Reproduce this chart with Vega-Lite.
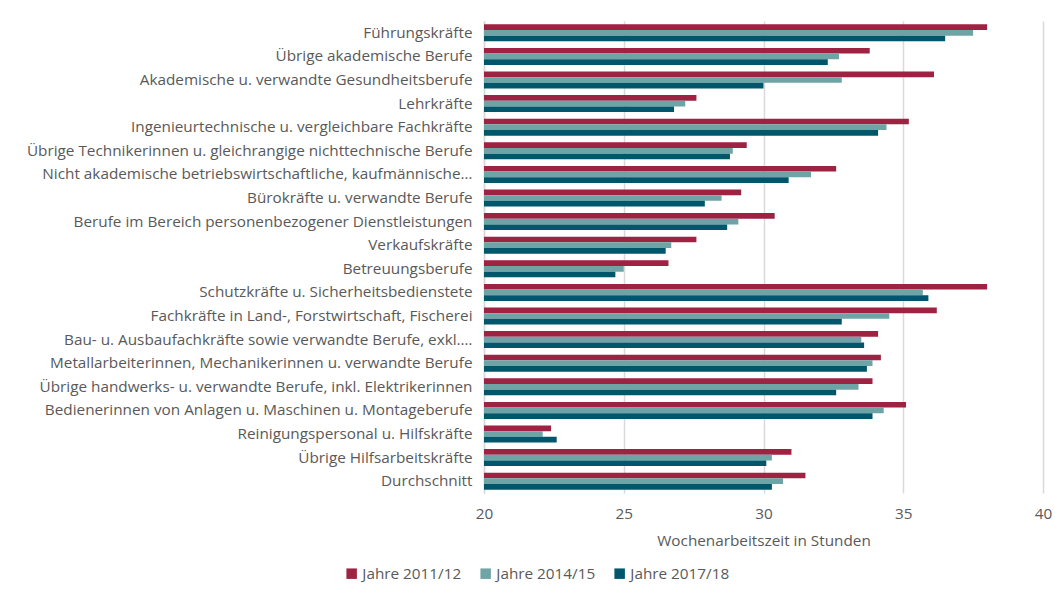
{
  "$schema": "https://vega.github.io/schema/vega-lite/v6.json",
  "width": 559,
  "height": 472,
  "autosize": {"type": "none"},
  "padding": {"left": 484, "top": 21, "right": 12, "bottom": 97},
  "background": "white",
  "config": {
    "view": {"stroke": null},
    "font": "Open Sans",
    "axis": {"labelColor": "#595959", "titleColor": "#595959", "labelFont": "Open Sans", "titleFont": "Open Sans"},
    "legend": {"labelFont": "Open Sans"}
  },
  "data": {
    "values": [
      {"beruf": "Führungskräfte", "jahr": "Jahre 2011/12", "stunden": 38.0},
      {"beruf": "Führungskräfte", "jahr": "Jahre 2014/15", "stunden": 37.5},
      {"beruf": "Führungskräfte", "jahr": "Jahre 2017/18", "stunden": 36.5},
      {"beruf": "Übrige akademische Berufe", "jahr": "Jahre 2011/12", "stunden": 33.8},
      {"beruf": "Übrige akademische Berufe", "jahr": "Jahre 2014/15", "stunden": 32.7},
      {"beruf": "Übrige akademische Berufe", "jahr": "Jahre 2017/18", "stunden": 32.3},
      {"beruf": "Akademische u. verwandte Gesundheitsberufe", "jahr": "Jahre 2011/12", "stunden": 36.1},
      {"beruf": "Akademische u. verwandte Gesundheitsberufe", "jahr": "Jahre 2014/15", "stunden": 32.8},
      {"beruf": "Akademische u. verwandte Gesundheitsberufe", "jahr": "Jahre 2017/18", "stunden": 30.0},
      {"beruf": "Lehrkräfte", "jahr": "Jahre 2011/12", "stunden": 27.6},
      {"beruf": "Lehrkräfte", "jahr": "Jahre 2014/15", "stunden": 27.2},
      {"beruf": "Lehrkräfte", "jahr": "Jahre 2017/18", "stunden": 26.8},
      {"beruf": "Ingenieurtechnische u. vergleichbare Fachkräfte", "jahr": "Jahre 2011/12", "stunden": 35.2},
      {"beruf": "Ingenieurtechnische u. vergleichbare Fachkräfte", "jahr": "Jahre 2014/15", "stunden": 34.4},
      {"beruf": "Ingenieurtechnische u. vergleichbare Fachkräfte", "jahr": "Jahre 2017/18", "stunden": 34.1},
      {"beruf": "Übrige Technikerinnen u. gleichrangige nichttechnische Berufe", "jahr": "Jahre 2011/12", "stunden": 29.4},
      {"beruf": "Übrige Technikerinnen u. gleichrangige nichttechnische Berufe", "jahr": "Jahre 2014/15", "stunden": 28.9},
      {"beruf": "Übrige Technikerinnen u. gleichrangige nichttechnische Berufe", "jahr": "Jahre 2017/18", "stunden": 28.8},
      {"beruf": "Nicht akademische betriebswirtschaftliche, kaufmännische…", "jahr": "Jahre 2011/12", "stunden": 32.6},
      {"beruf": "Nicht akademische betriebswirtschaftliche, kaufmännische…", "jahr": "Jahre 2014/15", "stunden": 31.7},
      {"beruf": "Nicht akademische betriebswirtschaftliche, kaufmännische…", "jahr": "Jahre 2017/18", "stunden": 30.9},
      {"beruf": "Bürokräfte u. verwandte Berufe", "jahr": "Jahre 2011/12", "stunden": 29.2},
      {"beruf": "Bürokräfte u. verwandte Berufe", "jahr": "Jahre 2014/15", "stunden": 28.5},
      {"beruf": "Bürokräfte u. verwandte Berufe", "jahr": "Jahre 2017/18", "stunden": 27.9},
      {"beruf": "Berufe im Bereich personenbezogener Dienstleistungen", "jahr": "Jahre 2011/12", "stunden": 30.4},
      {"beruf": "Berufe im Bereich personenbezogener Dienstleistungen", "jahr": "Jahre 2014/15", "stunden": 29.1},
      {"beruf": "Berufe im Bereich personenbezogener Dienstleistungen", "jahr": "Jahre 2017/18", "stunden": 28.7},
      {"beruf": "Verkaufskräfte", "jahr": "Jahre 2011/12", "stunden": 27.6},
      {"beruf": "Verkaufskräfte", "jahr": "Jahre 2014/15", "stunden": 26.7},
      {"beruf": "Verkaufskräfte", "jahr": "Jahre 2017/18", "stunden": 26.5},
      {"beruf": "Betreuungsberufe", "jahr": "Jahre 2011/12", "stunden": 26.6},
      {"beruf": "Betreuungsberufe", "jahr": "Jahre 2014/15", "stunden": 25.0},
      {"beruf": "Betreuungsberufe", "jahr": "Jahre 2017/18", "stunden": 24.7},
      {"beruf": "Schutzkräfte u. Sicherheitsbedienstete", "jahr": "Jahre 2011/12", "stunden": 38.0},
      {"beruf": "Schutzkräfte u. Sicherheitsbedienstete", "jahr": "Jahre 2014/15", "stunden": 35.7},
      {"beruf": "Schutzkräfte u. Sicherheitsbedienstete", "jahr": "Jahre 2017/18", "stunden": 35.9},
      {"beruf": "Fachkräfte in Land-, Forstwirtschaft, Fischerei", "jahr": "Jahre 2011/12", "stunden": 36.2},
      {"beruf": "Fachkräfte in Land-, Forstwirtschaft, Fischerei", "jahr": "Jahre 2014/15", "stunden": 34.5},
      {"beruf": "Fachkräfte in Land-, Forstwirtschaft, Fischerei", "jahr": "Jahre 2017/18", "stunden": 32.8},
      {"beruf": "Bau- u. Ausbaufachkräfte sowie verwandte Berufe, exkl.…", "jahr": "Jahre 2011/12", "stunden": 34.1},
      {"beruf": "Bau- u. Ausbaufachkräfte sowie verwandte Berufe, exkl.…", "jahr": "Jahre 2014/15", "stunden": 33.5},
      {"beruf": "Bau- u. Ausbaufachkräfte sowie verwandte Berufe, exkl.…", "jahr": "Jahre 2017/18", "stunden": 33.6},
      {"beruf": "Metallarbeiterinnen, Mechanikerinnen u. verwandte Berufe", "jahr": "Jahre 2011/12", "stunden": 34.2},
      {"beruf": "Metallarbeiterinnen, Mechanikerinnen u. verwandte Berufe", "jahr": "Jahre 2014/15", "stunden": 33.9},
      {"beruf": "Metallarbeiterinnen, Mechanikerinnen u. verwandte Berufe", "jahr": "Jahre 2017/18", "stunden": 33.7},
      {"beruf": "Übrige handwerks- u. verwandte Berufe, inkl. Elektrikerinnen", "jahr": "Jahre 2011/12", "stunden": 33.9},
      {"beruf": "Übrige handwerks- u. verwandte Berufe, inkl. Elektrikerinnen", "jahr": "Jahre 2014/15", "stunden": 33.4},
      {"beruf": "Übrige handwerks- u. verwandte Berufe, inkl. Elektrikerinnen", "jahr": "Jahre 2017/18", "stunden": 32.6},
      {"beruf": "Bedienerinnen von Anlagen u. Maschinen u. Montageberufe", "jahr": "Jahre 2011/12", "stunden": 35.1},
      {"beruf": "Bedienerinnen von Anlagen u. Maschinen u. Montageberufe", "jahr": "Jahre 2014/15", "stunden": 34.3},
      {"beruf": "Bedienerinnen von Anlagen u. Maschinen u. Montageberufe", "jahr": "Jahre 2017/18", "stunden": 33.9},
      {"beruf": "Reinigungspersonal u. Hilfskräfte", "jahr": "Jahre 2011/12", "stunden": 22.4},
      {"beruf": "Reinigungspersonal u. Hilfskräfte", "jahr": "Jahre 2014/15", "stunden": 22.1},
      {"beruf": "Reinigungspersonal u. Hilfskräfte", "jahr": "Jahre 2017/18", "stunden": 22.6},
      {"beruf": "Übrige Hilfsarbeitskräfte", "jahr": "Jahre 2011/12", "stunden": 31.0},
      {"beruf": "Übrige Hilfsarbeitskräfte", "jahr": "Jahre 2014/15", "stunden": 30.3},
      {"beruf": "Übrige Hilfsarbeitskräfte", "jahr": "Jahre 2017/18", "stunden": 30.1},
      {"beruf": "Durchschnitt", "jahr": "Jahre 2011/12", "stunden": 31.5},
      {"beruf": "Durchschnitt", "jahr": "Jahre 2014/15", "stunden": 30.7},
      {"beruf": "Durchschnitt", "jahr": "Jahre 2017/18", "stunden": 30.3}
    ]
  },
  "mark": {"type": "bar"},
  "encoding": {
    "y": {
      "field": "beruf", "type": "nominal", "sort": null,
      "scale": {"paddingInner": 0.28, "paddingOuter": 0.14},
      "axis": {"title": null, "labelFontSize": 15.3, "labelLimit": 480, "labelPadding": 12, "ticks": false, "domainColor": "#D9D9D9", "domainWidth": 1.5, "grid": false}
    },
    "yOffset": {"field": "jahr", "type": "nominal", "sort": null, "scale": {"paddingInner": 0}},
    "x": {
      "field": "stunden", "type": "quantitative",
      "scale": {"domain": [20, 40], "zero": false, "nice": false},
      "axis": {"title": "Wochenarbeitszeit in Stunden", "titleFontSize": 15.3, "titleFontWeight": "normal", "titlePadding": 12, "labelFontSize": 15.3, "labelPadding": 13, "labelFlush": false, "values": [20, 25, 30, 35, 40], "ticks": false, "domain": false, "grid": true, "gridColor": "#D9D9D9", "gridWidth": 1.5}
    },
    "x2": {"datum": 20},
    "color": {
      "field": "jahr", "type": "nominal", "sort": null,
      "scale": {"domain": ["Jahre 2011/12", "Jahre 2014/15", "Jahre 2017/18"], "range": ["#9E2241", "#6FA4A6", "#00566A"]},
      "legend": {"title": null, "orient": "none", "direction": "horizontal", "legendX": -140, "legendY": 545, "symbolType": "square", "symbolSize": 110, "symbolStrokeWidth": 0, "labelFontSize": 15.3, "labelColor": "#595959", "columnPadding": 16, "labelOffset": 3}
    }
  }
}
